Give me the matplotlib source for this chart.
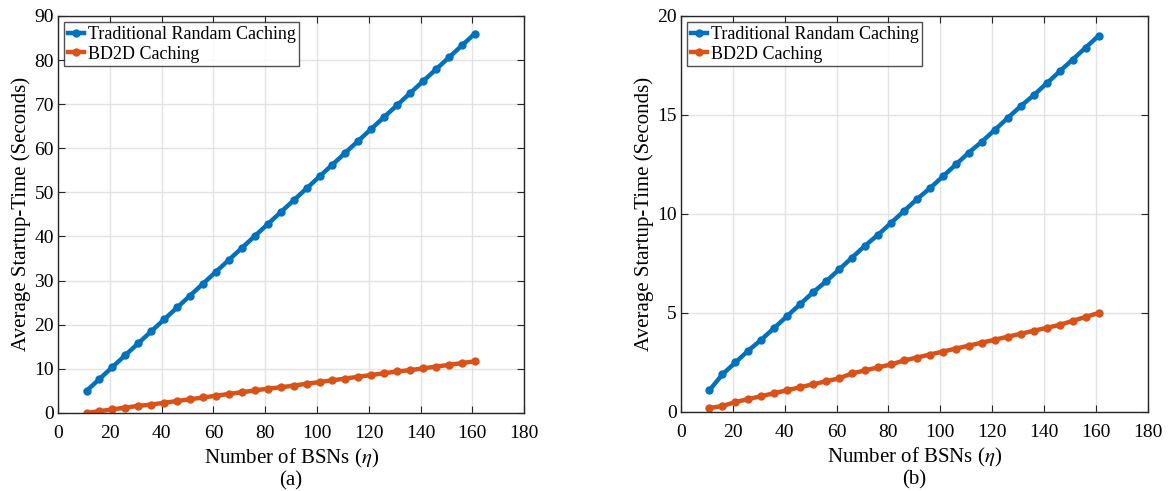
import matplotlib.pyplot as plt
import numpy as np

plt.rcParams['font.family'] = ['Liberation Serif', 'DejaVu Serif']
plt.rcParams['mathtext.fontset'] = 'stix'

# number of BSNs
bsn = [11, 16, 21, 26, 31, 36, 41, 46, 51, 56, 61, 66, 71, 76, 81, 86,
       91, 96, 101, 106, 111, 116, 121, 126, 131, 136, 141, 146, 151, 156, 161]

# panel (a)
trad_a = [5.0, 7.7, 10.4, 13.1, 15.8, 18.5, 21.2, 23.9, 26.6, 29.3, 32.0,
          34.7, 37.4, 40.1, 42.8, 45.5, 48.2, 50.9, 53.6, 56.3, 59.0, 61.7,
          64.4, 67.1, 69.8, 72.5, 75.2, 77.9, 80.6, 83.3, 86.0]
bd2d_a = [0.0, 0.4, 0.8, 1.2, 1.6, 1.9, 2.3, 2.7, 3.1, 3.5, 3.9, 4.3, 4.7,
          5.1, 5.5, 5.8, 6.2, 6.6, 7.0, 7.4, 7.8, 8.2, 8.6, 9.0, 9.4, 9.7,
          10.1, 10.5, 10.9, 11.3, 11.7]

# panel (b)
trad_b = [1.1, 1.9, 2.5, 3.1, 3.65, 4.25, 4.85, 5.45, 6.05, 6.6, 7.2, 7.8,
          8.4, 8.95, 9.55, 10.15, 10.75, 11.3, 11.9, 12.5, 13.1, 13.65, 14.25,
          14.85, 15.45, 16.0, 16.6, 17.2, 17.8, 18.4, 19.0]
bd2d_b = [0.2, 0.3, 0.5, 0.65, 0.8, 0.95, 1.1, 1.25, 1.4, 1.55, 1.7, 1.95,
          2.1, 2.25, 2.4, 2.6, 2.75, 2.9, 3.05, 3.2, 3.35, 3.5, 3.65, 3.8,
          3.95, 4.1, 4.25, 4.4, 4.6, 4.8, 5.0]

labels = ['Traditional Randam Caching', 'BD2D Caching']
colors = ['#0072BD', '#D95319']

fig = plt.figure(figsize=(11.68, 4.91), dpi=100)
ax1 = fig.add_axes([0.0497, 0.159, 0.399, 0.8086])
ax2 = fig.add_axes([0.583, 0.161, 0.3998, 0.8065])

panels = [(ax1, trad_a, bd2d_a, 90, 10, '(a)'),
          (ax2, trad_b, bd2d_b, 20, 5, '(b)')]

for ax, trad, bd2d, ymax, ystep, tag in panels:
    for ys, c, lab in zip([trad, bd2d], colors, labels):
        ax.plot(bsn, ys, color=c, lw=3.2, marker='o', ms=5, label=lab)
    ax.set_xlim(0, 180)
    ax.set_ylim(0, ymax)
    ax.set_xticks(np.arange(0, 181, 20))
    ax.set_yticks(np.arange(0, ymax + 1, ystep))
    ax.grid(True, color='#e3e3e3', lw=1)
    ax.set_axisbelow(True)
    ax.tick_params(direction='in', top=True, right=True, labelsize=14,
                   length=5, color='#262626')
    ax.tick_params(axis='x', pad=9)
    ax.tick_params(axis='y', pad=3)
    for s in ax.spines.values():
        s.set_color('#262626')
        s.set_linewidth(1)
    ax.set_xlabel('Number of BSNs ($\\eta$)', fontsize=15, labelpad=3)
    ax.set_ylabel('Average Startup-Time (Seconds)', fontsize=15, labelpad=2)
    ax.text(0.5, -0.171, tag, transform=ax.transAxes, ha='center',
            va='center', fontsize=15)
    leg = ax.legend(loc='upper left', fontsize=13, frameon=True, fancybox=False,
                    handlelength=0.9, handletextpad=0.2, borderpad=0.2,
                    labelspacing=0.15, borderaxespad=0.35)
    leg.get_frame().set_edgecolor('#262626')
    leg.get_frame().set_linewidth(1)

fig.savefig('out.png', dpi=100)
